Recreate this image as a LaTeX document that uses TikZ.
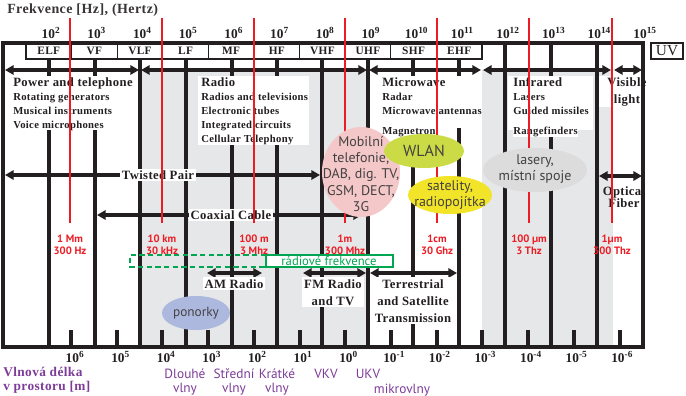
\documentclass[tikz,border=0pt]{standalone}
\usepackage{fontspec}
\setmainfont{Liberation Serif}
\setsansfont{PT Sans}
\newfontfamily\wideserif[LetterSpace=3]{Liberation Serif}
\usetikzlibrary{positioning,arrows.meta}
\definecolor{ink}{RGB}{35,31,32}
\definecolor{spred}{RGB}{237,28,36}
\definecolor{bandgray}{RGB}{230,231,232}
\definecolor{wavepurple}{RGB}{125,60,152}
\definecolor{rfgreen}{RGB}{0,166,81}
\definecolor{mobpink}{RGB}{244,200,200}
\definecolor{wlangreen}{RGB}{202,219,70}
\definecolor{satyellow}{RGB}{242,228,40}
\definecolor{lasgray}{RGB}{220,220,220}
\definecolor{subblue}{RGB}{172,184,222}
\def\hdsize{\fontsize{9.5}{10.5}\selectfont}

\begin{document}
\begin{tikzpicture}[x=0.75pt,y=-0.75pt,
    bar/.style={line width=2.3pt,draw=ink},
    redbar/.style={line width=2.2pt,draw=spred},
    span/.style={line width=2.3pt,draw=ink,{Triangle[length=6.5pt,width=7pt]}-{Triangle[length=6.5pt,width=7pt]}},
    frame/.style={line width=2.4pt,draw=ink},
    bandbox/.style={line width=1pt,draw=ink},
    bandname/.style={text=ink,font=\wideserif\bfseries\fontsize{8.5}{10}\selectfont},
    decade/.style={anchor=base,inner sep=0pt,text=ink,font=\bfseries\fontsize{10}{12}\selectfont},
    items/.style={anchor=north west,align=left,inner sep=0pt,text=ink,font=\wideserif\bfseries\fontsize{8}{10.5}\selectfont},
    medium/.style={fill=white,inner sep=1.5pt,align=center,text=ink,font=\wideserif\bfseries\fontsize{9.5}{12.75}\selectfont},
    rtag/.style={text=spred,align=center,font=\sffamily\bfseries\fontsize{8}{9}\selectfont},
    blob/.style={align=center,text=ink!85,font=\sffamily\fontsize{10.5}{12}\selectfont},
    wave/.style={text=wavepurple,align=center,font=\sffamily\fontsize{10}{10.5}\selectfont}]
  \useasboundingbox (0,0) rectangle (686,396);
  % shaded bands
  \fill[bandgray] (142,70) rectangle (368,347);
  \fill[bandgray] (482,70) rectangle (613,347);
  % decade lines and ticks
  \foreach \x/\t in {49/59,95/59,140/59,186/59,232/59,277/59,322/59,368/59,413/59,459/59,505/43,551/43,597/43}
    \draw[bar] (\x,\t) -- (\x,347);
  \foreach \x in {71,117,162,208,254,300,345,391,437,482,528,574,620}
    \draw[bar] (\x,330) -- (\x,347);
  % white behind the lists
  \fill[white] (5,76) rectangle (138,130);
  \fill[white] (198,76) rectangle (309,145);
  \fill[white] (370,76) rectangle (480,128);
  \fill[white] (508,76) rectangle (593,130);
  \fill[white] (599,76) rectangle (641,107);
  % frame and band names
  \draw[frame] (3,43) rectangle (643,347);
  \draw[bandbox] (26,43) rectangle (482,59);
  \foreach \nm [count=\i] in {ELF,VF,VLF,LF,MF,HF,VHF,UHF,SHF,EHF} {
    \node[bandname] (\nm) at ({26+45.6*(\i-0.5)},51) {\nm};
    \draw[bandbox] ({26+45.6*\i},43) -- ({26+45.6*\i},59);
  }
  \draw[bandbox] (651,43) rectangle (683,59);
  \node[text=ink,font=\fontsize{11.5}{12}\selectfont] (UV) at (667,51) {UV};
  \foreach \e [count=\i from 0] in {2,...,15}
    \node[decade] (hz\e) at ({51+45.7*\i},38) {10\textsuperscript{\e}};
  \foreach \e [count=\i from 0] in {6,5,4,3,2,1,0,-1,-2,-3,-4,-5,-6}
    \node[decade] (m\i) at ({75+45.6*\i},362) {10\textsuperscript{\e}};
  % top spans
  \foreach \a/\b in {5/139,141/367,369/481,483/611,614/642} {
    \coordinate (L\a) at (\a,70);
    \coordinate (R\a) at (\b,70);
    \draw[span] (L\a) -- (R\a);
  }
  \node[items] (power) at (13,77) {{\hdsize Power and telephone}\\Rotating generators\\Musical instruments\\Voice microphones};
  \node[items] (radio) at (201,77) {{\hdsize Radio}\\Radios and televisions\\Electronic tubes\\Integrated circuits\\Cellular Telephony};
  \node[items] (micro) at (382,77) {{\hdsize Microwave}\\Radar\\Microwave antennas};
  \node[items,fill=white] (magn) at (382,127) {Magnetron};
  \node[items] (infra) at (513,77) {{\hdsize Infrared}\\Lasers\\Guided missiles};
  \node[items,fill=white] (range) at (513,127) {Rangefinders};
  \node[items,anchor=north,align=center,font=\wideserif\bfseries\fontsize{9.5}{12.75}\selectfont] (light) at (627,77) {Visible\\light};
  % cables
  \coordinate (tpL) at (5,175);
  \coordinate (tpR) at (320,175);
  \draw[span] (tpL) -- (tpR);
  \node[medium] (twisted) at (158,175) {Twisted Pair};
  \coordinate (cxL) at (97,215);
  \coordinate (cxR) at (362,215);
  \draw[span] (cxL) -- (cxR);
  \node[medium] (coax) at (231,215) {Coaxial Cable};
  \coordinate (ofL) at (599,176);
  \coordinate (ofR) at (642,176);
  \draw[span] (ofL) -- (ofR);
  \node[items,anchor=north,align=center,font=\wideserif\bfseries\fontsize{9.5}{8}\selectfont] (fiber) at (624,186) {Optical\\Fiber};
  % broadcast spans
  \coordinate (amL) at (207,273);
  \coordinate (amR) at (262,273);
  \draw[span] (amL) -- (amR);
  \node[medium,anchor=north] (am) at (234,277) {AM Radio};
  \coordinate (fmL) at (303,273);
  \coordinate (fmR) at (366,273);
  \draw[span] (fmL) -- (fmR);
  \node[medium,anchor=north] (fm) at (333,277) {FM Radio\\and TV};
  \coordinate (tsL) at (370,273);
  \coordinate (tsR) at (457,273);
  \draw[span] (tsL) -- (tsR);
  \node[medium,anchor=north] (terr) at (413,277) {Terrestrial\\and Satellite\\Transmission};
  % wavelength markers
  \foreach \x in {70,162,254,345,437,529,612}
    \draw[redbar] (\x,18) -- (\x,223);
  \foreach \x/\a/\b in {70/1 Mm/300 Hz,162/10 km/30 kHz,254/100 m/3 Mhz,345/1m/300 Mhz,437/1cm/30 Ghz,529/100 µm/3 Thz,612/1µm/300 Thz}
    \node[rtag] (tag\x) at (\x,245) {\a\\\b};
  % applications
  \fill[mobpink] (361,172) ellipse [x radius=39,y radius=45];
  \node[blob,font=\sffamily\fontsize{10.5}{12.2}\selectfont] (mobil) at (361,174) {Mobilní\\telefonie,\\DAB, dig. TV,\\GSM, DECT,\\3G};
  \fill[wlangreen] (424,151) ellipse [x radius=40,y radius=17];
  \node[blob,font=\sffamily\fontsize{12}{14}\selectfont] (wlan) at (424,151) {WLAN};
  \fill[satyellow] (450,195) ellipse [x radius=42,y radius=19];
  \node[blob,font=\sffamily\fontsize{10.5}{12.7}\selectfont] (sat) at (450,195) {satelity,\\radiopojítka};
  \fill[lasgray] (535,170) ellipse [x radius=52,y radius=22];
  \node[blob] (laser) at (535,169) {lasery,\\místní spoje};
  \fill[subblue] (196,313) ellipse [x radius=34,y radius=17];
  \node[blob,font=\sffamily\fontsize{10}{12}\selectfont] (sub) at (196,313) {ponorky};
  % radio frequencies
  \draw[rfgreen,line width=0.8pt,dash pattern=on 4pt off 2.5pt] (266,255) -- (130,255) -- (130,267) -- (266,267);
  \draw[rfgreen,line width=0.8pt,fill=white] (266,255) rectangle (393,267);
  \node[text=rfgreen,font=\sffamily\fontsize{9.5}{10}\selectfont,inner sep=0pt] (rf) at (329,261) {rádiové frekvence};
  % wavelength names
  \node[anchor=north west,align=left,inner sep=0pt,text=wavepurple,font=\wideserif\bfseries\fontsize{10}{10.5}\selectfont] (vlna) at (3,367) {Vlnová délka\\v prostoru [m]};
  \node[wave,anchor=north] (dlouhe) at (185,364) {Dlouhé\\vlny};
  \node[wave,anchor=north] (stredni) at (234,364) {Střední\\vlny};
  \node[wave,anchor=north] (kratke) at (277,364) {Krátké\\vlny};
  \node[wave,anchor=north] (vkv) at (326,364) {VKV};
  \node[wave,anchor=north] (ukv) at (368,364) {UKV};
  \node[wave,anchor=north] (mikro) at (402,379) {mikrovlny};
  % title
  \node[anchor=base west,inner sep=0pt,text=ink!90,font=\wideserif\bfseries\fontsize{10.5}{11}\selectfont] (title) at (7,13) {Frekvence [Hz], (Hertz)};
\end{tikzpicture}
\end{document}
